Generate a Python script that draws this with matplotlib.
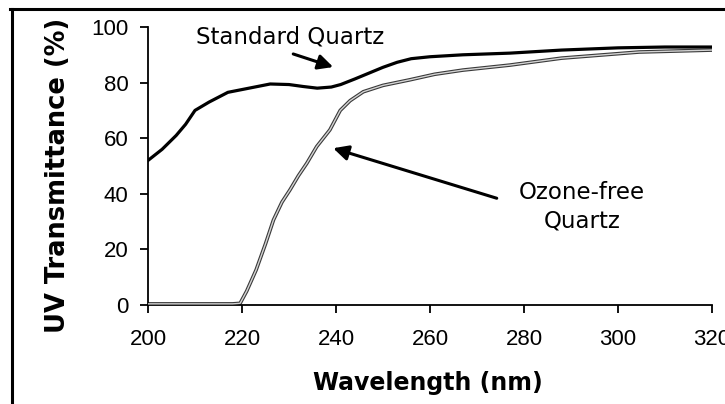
"""
UV transmittance of standard vs ozone-free quartz
"""

import matplotlib
matplotlib.use('Agg')
import matplotlib.pyplot as plt
from matplotlib.lines import Line2D

# ==================== data ====================
std_wl = [200, 203, 206, 208, 210, 213, 217, 220, 223, 226, 230, 233, 236, 239,
          241, 244, 247, 250, 253, 256, 260, 267, 277, 288, 300, 310, 320]
std_t = [52, 56, 61, 65, 70, 73, 76.5, 77.5, 78.5, 79.5, 79.3, 78.6, 78, 78.4,
         79.3, 81.3, 83.4, 85.5, 87.3, 88.6, 89.3, 90, 90.6, 91.7, 92.5, 92.8, 92.8]

oz_wl = [200, 210, 218, 219.6, 221, 223, 225, 226.7, 228.5, 230.2, 232, 233.8,
         235.9, 238.7, 240.9, 243, 245.8, 250, 255.7, 261, 267, 277, 288, 304.5, 320]
oz_t = [0.4, 0.4, 0.4, 0.6, 5, 12.6, 22, 30.6, 37, 41.4, 46.5, 51,
        57, 63, 70, 73.5, 76.7, 79, 81, 83, 84.5, 86.3, 88.8, 91, 91.7]

x_ticks = [200, 220, 240, 260, 280, 300, 320]
y_ticks = [0, 20, 40, 60, 80, 100]

TICK_FONT = 'Liberation Sans'
NOTE_FONT = 'DejaVu Sans'

# ==================== figure ====================
fig = plt.figure(figsize=(7.25, 4.04), dpi=100, facecolor='white')
ax = fig.add_axes([148 / 725, 1 - 305 / 404, (712 - 148) / 725, (305 - 27) / 404])

ax.plot(oz_wl, oz_t, color='#3a3a3a', linewidth=2.6, solid_capstyle='butt', zorder=2)
ax.plot(oz_wl, oz_t, color='#d4d4d4', linewidth=1.0, solid_capstyle='butt', zorder=3)
ax.plot(std_wl, std_t, color='black', linewidth=2.3, zorder=4)

ax.set_xlim(200, 320)
ax.set_ylim(0, 100)
ax.set_xticks(x_ticks)
ax.set_yticks(y_ticks)
ax.set_xticklabels([str(v) for v in x_ticks], family=TICK_FONT, fontsize=16)
ax.set_yticklabels([str(v) for v in y_ticks], family=TICK_FONT, fontsize=16)
ax.tick_params(axis='both', direction='out', length=6, width=1.3, color='black')
ax.tick_params(axis='x', pad=11)
ax.tick_params(axis='y', pad=8)

for s in ['top', 'right']:
    ax.spines[s].set_visible(False)
for s in ['left', 'bottom']:
    ax.spines[s].set_linewidth(1.3)

ax.set_xlabel('Wavelength (nm)', family=NOTE_FONT, fontsize=17, fontweight='bold')
ax.xaxis.set_label_coords(0.497, -0.238)
ax.set_ylabel('UV Transmittance (%)', family=NOTE_FONT, fontsize=18.5, fontweight='bold')
ax.yaxis.set_label_coords(-0.137, 0.465)

# ==================== annotations ====================
ax.text(230.3, 96.4, 'Standard Quartz', family=NOTE_FONT, fontsize=16.5,
        ha='center', va='center')
ax.annotate('', xy=(239.4, 85.6), xytext=(230.9, 90.3),
            arrowprops=dict(arrowstyle='-|>,head_length=0.9,head_width=0.45',
                            color='black', lw=2.2, shrinkA=0, shrinkB=0))

ax.text(292.3, 35.3, 'Ozone-free\nQuartz', family=NOTE_FONT, fontsize=16.5,
        ha='center', va='center', linespacing=1.3)
ax.annotate('', xy=(239.4, 56.4), xytext=(274.2, 38.4),
            arrowprops=dict(arrowstyle='-|>,head_length=0.9,head_width=0.45',
                            color='black', lw=2.2, shrinkA=0, shrinkB=0))

# ==================== outer frame (left and top edges) ====================
fig.add_artist(Line2D([11.5 / 725, 11.5 / 725], [0, 1 - 8.5 / 404],
                      transform=fig.transFigure, color='black', linewidth=2.2))
fig.add_artist(Line2D([10 / 725, 1], [1 - 8.5 / 404, 1 - 8.5 / 404],
                      transform=fig.transFigure, color='black', linewidth=2.2))

fig.savefig('out.png', dpi=100, facecolor='white')
